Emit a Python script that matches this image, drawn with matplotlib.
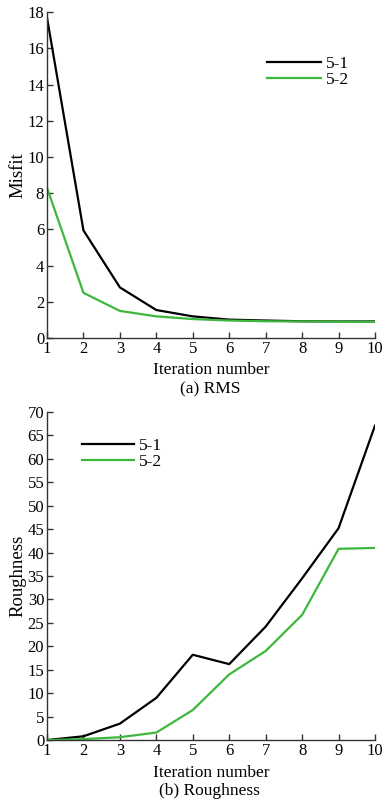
import matplotlib
matplotlib.use("Agg")
import matplotlib.pyplot as plt

plt.rcParams['font.family'] = ['Liberation Serif', 'DejaVu Serif']
plt.rcParams['font.size'] = 12

iterations = [1, 2, 3, 4, 5, 6, 7, 8, 9, 10]
rms_51 = [17.7, 5.95, 2.8, 1.55, 1.2, 1.02, 0.97, 0.93, 0.92, 0.92]
rms_52 = [8.3, 2.5, 1.5, 1.2, 1.05, 0.97, 0.93, 0.92, 0.91, 0.9]
rough_51 = [0.0, 0.8, 3.5, 9.0, 18.2, 16.2, 24.2, 34.5, 45.2, 67.1]
rough_52 = [0.0, 0.2, 0.6, 1.6, 6.4, 14.0, 19.0, 26.7, 40.8, 41.0]
series_names = ['5-1', '5-2']
colors = ['#000000', '#3db83d']

fig = plt.figure(figsize=(3.9, 8.05), dpi=100)
ax1 = fig.add_axes([0.1205, 0.580, 0.841, 0.405])
ax2 = fig.add_axes([0.1205, 0.0807, 0.841, 0.4075])

def style(ax, ymax, ystep, ylabel, xpad):
    ax.set_xlim(1, 10)
    ax.set_ylim(0, ymax)
    ax.set_xticks(iterations)
    ax.set_yticks(range(0, ymax + 1, ystep))
    for s in ['top', 'right']:
        ax.spines[s].set_visible(False)
    for s in ['left', 'bottom']:
        ax.spines[s].set_color('#333333')
        ax.spines[s].set_linewidth(1.0)
    ax.tick_params(direction='in', length=4, width=1.0, color='#333333', pad=2,
                   labelsize=12)
    ax.set_xlabel('Iteration number', labelpad=xpad, fontsize=12.5)
    ax.set_ylabel(ylabel, labelpad=1, fontsize=13.5)

ax1.plot(iterations, rms_51, color=colors[0], lw=1.6, label=series_names[0])
ax1.plot(iterations, rms_52, color=colors[1], lw=1.6, label=series_names[1])
style(ax1, 18, 2, 'Misfit', 3.5)
ax1.legend(frameon=False, loc='upper left', bbox_to_anchor=(0.65, 0.888),
           handlelength=3.1, handletextpad=0.3, labelspacing=0.0, borderaxespad=0,
           fontsize=12.5)

ax2.plot(iterations, rough_51, color=colors[0], lw=1.6, label=series_names[0])
ax2.plot(iterations, rough_52, color=colors[1], lw=1.6, label=series_names[1])
style(ax2, 70, 5, 'Roughness', 4.5)
ax2.legend(frameon=False, loc='upper left', bbox_to_anchor=(0.085, 0.942),
           handlelength=3.0, handletextpad=0.3, labelspacing=0.0, borderaxespad=0,
           fontsize=12.5)

fig.text(0.538, 1 - 389 / 805, '(a) RMS', ha='center', va='center', fontsize=12.5)
fig.text(0.538, 1 - 791 / 805, '(b) Roughness', ha='center', va='center', fontsize=12.5)

fig.savefig('out.png', dpi=100)
